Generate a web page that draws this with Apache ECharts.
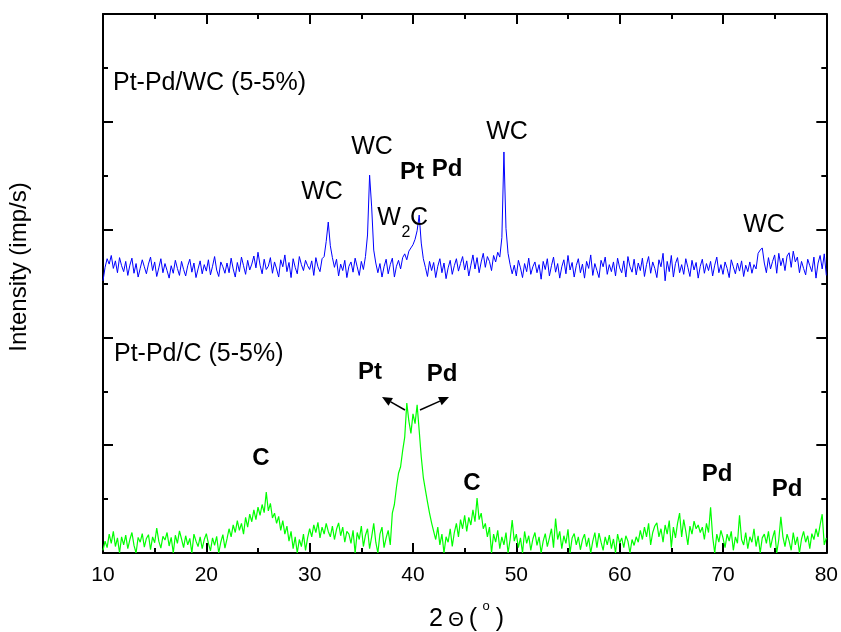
<!DOCTYPE html>
<html>
<head>
<meta charset="utf-8">
<script src="https://cdn.jsdelivr.net/npm/echarts@6/dist/echarts.min.js"></script>
<style>
html,body{margin:0;padding:0;background:#fff;}
#chart{width:841px;height:632px;}
</style>
</head>
<body>
<div id="chart"></div>
<script>
// 2-theta sampling (degrees)
var thetaStart = 10;
var thetaStep = 0.2;

// Pt-Pd/WC (5-5%) intensity, arbitrary units (axis 0..1000)
var seriesWC = [
505,530,546,536,552,528,542,520,548,533,
522,541,515,534,547,519,537,512,528,544,
531,518,536,549,524,540,513,529,546,520,
537,524,510,533,519,543,528,515,541,526,
514,533,545,521,538,511,527,542,518,535,
523,544,516,532,550,525,513,540,531,519,
538,520,547,527,512,539,522,549,533,517,
543,525,536,551,529,558,534,518,545,526,
532,548,519,540,527,512,544,531,553,522,
539,511,546,530,518,550,535,524,543,533,
526,542,515,548,531,522,546,550,578,614,
570,548,530,545,514,536,524,543,511,532,
540,521,547,531,515,541,526,550,590,701,
642,562,538,520,537,512,531,545,518,535,
547,512,532,543,527,548,555,544,560,566,
572,582,598,627,575,546,530,513,541,524,
539,511,532,546,520,538,509,529,543,517,
533,546,523,537,550,525,542,514,534,553,
527,548,520,540,556,530,550,541,524,552,
540,558,549,585,744,602,556,535,518,534,
514,543,529,511,537,522,547,517,531,540,
520,535,508,541,526,546,514,533,549,521,
537,510,531,544,518,552,525,539,512,533,
546,520,536,510,541,528,553,515,537,524,
511,543,531,549,517,535,522,540,514,547,
529,520,542,512,550,531,521,545,516,538,
524,547,513,535,550,519,540,528,511,544,
531,556,505,541,522,552,512,537,548,520,
535,517,546,530,513,543,525,539,510,532,
545,519,537,524,541,514,534,549,520,535,
517,540,528,511,544,531,518,538,523,542,
513,534,522,540,519,535,527,556,562,566,
538,520,548,527,541,553,519,556,533,547,
524,551,557,530,560,540,549,520,541,528,
516,545,533,522,549,510,538,552,527,555,
515
];

// Pt-Pd/C (5-5%) intensity, arbitrary units (axis 0..1000)
var seriesC = [
5,22,10,35,18,40,12,28,0,30,
15,33,8,25,38,14,0,29,20,36,
11,27,34,6,30,19,46,22,9,31,
24,38,13,29,0,33,18,41,26,10,
32,15,27,0,35,22,12,30,8,25,
36,18,4,28,14,31,0,20,34,9,
26,45,30,52,38,60,42,55,35,66,
48,72,58,80,62,85,70,90,75,113,
78,92,65,74,55,68,42,60,35,50,
22,40,8,30,0,25,12,35,5,28,
45,30,52,38,57,28,48,35,55,40,
30,50,25,44,56,32,48,20,40,35,
18,42,0,38,25,50,12,33,45,8,
30,55,20,0,35,48,10,28,42,15,
74,90,122,148,160,190,215,278,245,222,
258,240,275,227,178,140,117,95,74,56,
40,25,48,15,35,0,30,20,45,12,
38,55,30,62,45,70,40,66,52,80,
58,102,62,74,45,55,30,48,0,35,
20,42,8,30,15,38,0,25,61,22,
35,10,28,0,40,18,32,5,26,38,
14,30,0,22,36,12,28,45,10,64,
25,40,8,32,18,44,0,28,36,15,
30,6,25,35,12,28,0,22,38,10,
37,20,5,30,15,33,8,26,0,35,
18,28,10,32,22,0,25,14,30,20,
42,25,48,30,55,15,38,50,56,30,
45,20,52,35,60,10,48,28,55,74,
30,62,40,15,50,35,59,45,52,38,
48,25,55,38,85,30,0,35,20,42,
28,10,35,22,40,5,30,18,70,25,
15,38,8,30,20,45,12,32,0,28,
35,18,40,10,28,42,0,25,67,30,
12,35,22,5,38,15,30,0,26,40,
20,32,8,36,25,45,30,52,72,15,
28
];

var xTicks = [10,20,30,40,50,60,70,80];

function pairs(vals){
  return vals.map(function(v,i){ return [Math.round((thetaStart + i*thetaStep)*10)/10, v]; });
}

var FONT = '"Liberation Sans", Arial, sans-serif';

function txt(x, y, s, size, bold, align){
  return {type:'text', x:x, y:y, z:100, style:{text:s, fill:'#000', font:(bold?'bold ':'')+size+'px '+FONT, textAlign:align||'center', textVerticalAlign:'middle'}};
}
function arrow(x1,y1,x2,y2){
  var dx=x2-x1, dy=y2-y1, L=Math.sqrt(dx*dx+dy*dy), ux=dx/L, uy=dy/L;
  var hl=10, hw=4.5, bx=x2-hl*ux, by=y2-hl*uy, px=-uy, py=ux;
  return [
    {type:'line', z:100, shape:{x1:x1,y1:y1,x2:bx,y2:by}, style:{stroke:'#000', lineWidth:1.5}},
    {type:'polygon', z:100, shape:{points:[[x2,y2],[bx+hw*px,by+hw*py],[bx-hw*px,by-hw*py]]}, style:{fill:'#000'}}
  ];
}

var axisCommon = {
  axisLine:{show:true, onZero:false, lineStyle:{color:'#000', width:2}},
  axisTick:{show:true, inside:true, length:10, lineStyle:{color:'#000', width:2}},
  minorTick:{show:true, splitNumber:2, length:5, lineStyle:{color:'#000', width:2}},
  splitLine:{show:false},
  minorSplitLine:{show:false}
};

function xAxisDef(pos, labels){
  return Object.assign({
    type:'value', position:pos, min:10, max:80, interval:10,
    axisLabel:{show:labels, margin:12, color:'#000', fontSize:21, fontFamily:FONT,
      formatter:function(v){ return xTicks.indexOf(v) >= 0 ? String(v) : ''; }}
  }, JSON.parse(JSON.stringify(axisCommon)));
}
function yAxisDef(pos){
  return Object.assign({
    type:'value', position:pos, min:0, max:1000, interval:200,
    axisLabel:{show:false}
  }, JSON.parse(JSON.stringify(axisCommon)));
}

var graphics = [
  txt(113, 83, 'Pt-Pd/WC (5-5%)', 25, false, 'left'),
  txt(114, 354, 'Pt-Pd/C (5-5%)', 25, false, 'left'),
  txt(322, 192, 'WC', 25),
  txt(372, 147, 'WC', 25),
  txt(507, 132, 'WC', 25),
  txt(764, 225, 'WC', 25),
  txt(389, 218, 'W', 25),
  txt(406, 233, '2', 16),
  txt(419, 218, 'C', 25),
  txt(412, 172, 'Pt', 24, true),
  txt(447, 169, 'Pd', 24, true),
  txt(370, 372, 'Pt', 24, true),
  txt(442, 374, 'Pd', 24, true),
  txt(261, 458, 'C', 24, true),
  txt(472, 483, 'C', 24, true),
  txt(717, 474, 'Pd', 24, true),
  txt(787, 489, 'Pd', 24, true),
  // axis titles
  {type:'text', x:19, y:267, rotation:Math.PI/2, z:100, style:{text:'Intensity (imp/s)', fill:'#000', font:'24px '+FONT, textAlign:'center', textVerticalAlign:'middle'}},
  txt(436, 619, '2', 25),
  txt(456, 620, 'Θ', 20),
  txt(473, 619, '(', 25),
  txt(486, 606, 'o', 13),
  txt(500, 619, ')', 25)
].concat(arrow(405,410,382,397)).concat(arrow(420,410,449,397));

var chart = echarts.init(document.getElementById('chart'), null, {renderer:'canvas'});
chart.setOption({
  animation:false,
  backgroundColor:'#fff',
  grid:{left:103, right:14, top:14, bottom:79, containLabel:false},
  xAxis:[xAxisDef('bottom', true), xAxisDef('top', false)],
  yAxis:[yAxisDef('left'), yAxisDef('right')],
  series:[
    {type:'line', name:'Pt-Pd/WC', data:pairs(seriesWC), showSymbol:false, symbol:'none',
      lineStyle:{color:'#0000ff', width:1}, itemStyle:{color:'#0000ff'}, z:3},
    {type:'line', name:'Pt-Pd/C', data:pairs(seriesC), showSymbol:false, symbol:'none',
      lineStyle:{color:'#00ff00', width:1.2}, itemStyle:{color:'#00ff00'}, z:2}
  ],
  graphic:graphics
});
</script>
</body>
</html>
